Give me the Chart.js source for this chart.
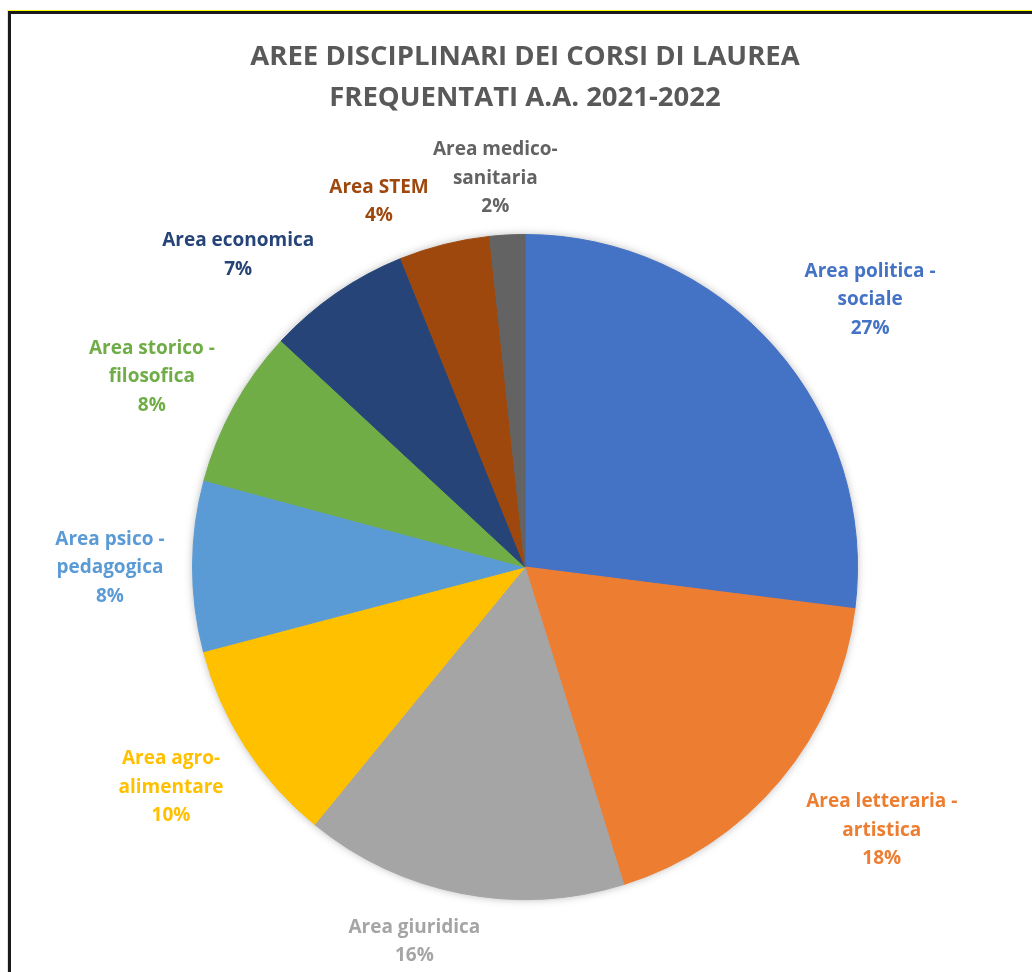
<!DOCTYPE html>
<html lang="it">
<head>
  <meta charset="UTF-8">
  <title>Aree disciplinari dei corsi di laurea</title>
  <script src="https://cdn.jsdelivr.net/npm/chart.js@4"></script>
  <style>
    body { margin: 0; background: #fff; font-family: "Open Sans", sans-serif; }
    #wrap { position: absolute; left: 0; top: 0; width: 1032px; height: 972px; overflow: hidden; }
    /* cornice: filo giallo + bordo nero, solo sopra e a sinistra */
    #frameY { position: absolute; left: 7px; top: 10px; width: 1100px; height: 1100px;
              border-top: 1px solid #ffff00; border-left: 1px solid #ffff00; }
    #frameK { position: absolute; left: 8px; top: 11px; width: 1100px; height: 1100px;
              border-top: 3px solid #1a1a1a; border-left: 3px solid #1a1a1a; }
    #title { position: absolute; left: 18px; width: 1014px; top: 34px; text-align: center;
             font-weight: bold; font-size: 27.5px; line-height: 41px; color: #595959; }
    #box { position: absolute; left: 0; top: 0; width: 1032px; height: 972px; }
  </style>
</head>
<body>
<div id="wrap">
  <div id="box"><canvas id="torta"></canvas></div>
  <div id="frameY"></div>
  <div id="frameK"></div>
  <div id="title">AREE DISCIPLINARI DEI CORSI DI LAUREA<br>FREQUENTATI A.A. 2021-2022</div>
</div>

<script>
  // dati (percentuali)
  const aree = [
    'Area politica -\nsociale',
    'Area letteraria -\nartistica',
    'Area giuridica',
    'Area agro-\nalimentare',
    'Area psico -\npedagogica',
    'Area storico -\nfilosofica',
    'Area economica',
    'Area STEM',
    'Area medico-\nsanitaria'
  ];
  const quote = [27.0, 18.2, 15.7, 10.0, 8.3, 7.7, 7.0, 4.4, 1.7];
  const colori = ['#4472C4', '#ED7D31', '#A5A5A5', '#FFC000', '#5B9BD5',
                  '#70AD47', '#264478', '#9E480E', '#636363'];

  // spostamenti fini delle etichette (px)
  const nudge = [[24, 1], [21, 3], [-29, 2], [-5, 1], [2, 2], [-1, 6], [-38, 10], [-46, 14], [-7, 16]];

  const ombra = {
    id: 'ombra',
    beforeDatasetsDraw(chart) {
      const a = chart.getDatasetMeta(0).data[0];
      const ctx = chart.ctx;
      ctx.save();
      ctx.shadowColor = 'rgba(0,0,0,0.35)';
      ctx.shadowBlur = 10;
      ctx.fillStyle = '#fff';
      ctx.beginPath();
      ctx.arc(a.x, a.y, a.outerRadius - 1, 0, Math.PI * 2);
      ctx.fill();
      ctx.restore();
    }
  };

  const etichette = {
    id: 'etichette',
    afterDatasetsDraw(chart) {
      const ctx = chart.ctx;
      const arcs = chart.getDatasetMeta(0).data;
      const tot = quote.reduce((s, v) => s + v, 0);
      const lh = 28.5, gap = 30;
      ctx.save();
      ctx.font = 'bold 19px "Open Sans"';
      ctx.textAlign = 'center';
      ctx.textBaseline = 'middle';
      arcs.forEach((a, i) => {
        const righe = aree[i].split('\n').concat([Math.round(quote[i] / tot * 100) + '%']);
        const w = Math.max(...righe.map(t => ctx.measureText(t).width));
        const hw = w / 2, hh = righe.length * lh / 2;
        const mid = (a.startAngle + a.endAngle) / 2;
        const dx = Math.cos(mid), dy = Math.sin(mid);
        let cx = a.x + dx * (a.outerRadius + gap + hw);
        let cy = a.y + dy * (a.outerRadius + gap + hh);
        cx = Math.min(Math.max(cx, hw + 14), chart.width - hw - 4);
        cy = Math.min(Math.max(cy, hh + 14), chart.height - hh - 4);
        cx += nudge[i][0];
        cy += nudge[i][1];
        ctx.fillStyle = colori[i];
        righe.forEach((t, k) => {
          ctx.fillText(t, cx, cy - hh + lh * (k + 0.5));
        });
      });
      ctx.restore();
    }
  };

  new Chart(document.getElementById('torta'), {
    type: 'pie',
    data: {
      labels: aree,
      datasets: [{
        data: quote,
        backgroundColor: colori,
        borderColor: colori,
        borderWidth: 1
      }]
    },
    options: {
      responsive: true,
      maintainAspectRatio: false,
      animation: false,
      layout: { padding: { top: 234, bottom: 72, left: 192, right: 174 } },
      plugins: {
        legend: { display: false },
        tooltip: { enabled: false },
        title: { display: false }
      }
    },
    plugins: [ombra, etichette]
  });
</script>
</body>
</html>
